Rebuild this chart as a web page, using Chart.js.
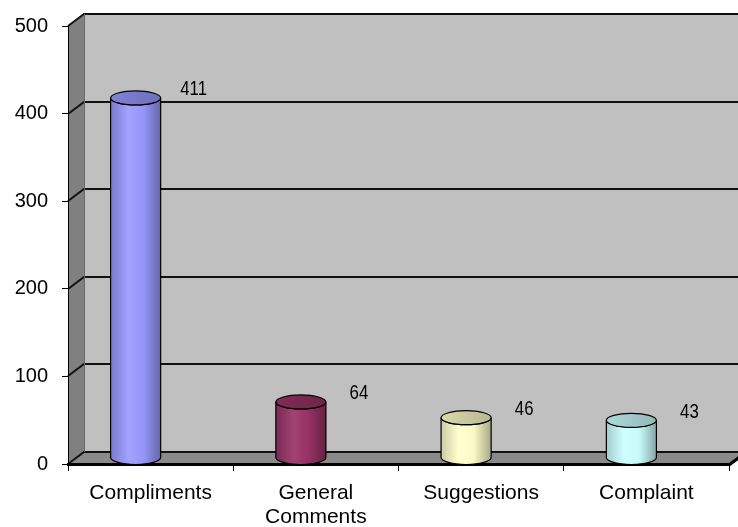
<!DOCTYPE html>
<html>
<head>
<meta charset="utf-8">
<script src="https://cdn.jsdelivr.net/npm/chart.js@4/dist/chart.umd.min.js"></script>
<style>
  html, body { margin: 0; padding: 0; background: #ffffff; }
  #wrap { width: 738px; height: 527px; }
</style>
</head>
<body>
<div id="wrap"><canvas id="c" width="738" height="527"></canvas></div>
<script>
// Feedback counts by type
const categories = ['Compliments', ['General', 'Comments'], 'Suggestions', 'Complaint'];
const counts = [411, 64, 46, 43];
const yMin = 0;
const yMax = 500;
const yStep = 100;
const cylinderColors = ['#9999FF', '#993366', '#FFFFCC', '#CCFFFF'];

// 3D look: depth offset of the back wall relative to the front plane
const DEPTH_X = 16;
const DEPTH_Y = 12;

function rgb(hex) {
  const n = parseInt(hex.slice(1), 16);
  return [(n >> 16) & 255, (n >> 8) & 255, n & 255];
}
function shade(hex, f) {
  const c = rgb(hex).map(v => {
    const x = f <= 1 ? v * f : v + (255 - v) * (f - 1);
    return Math.max(0, Math.min(255, Math.round(x)));
  });
  return 'rgb(' + c.join(',') + ')';
}

// Walls, floor and gridlines of the 3D box
const wallsPlugin = {
  id: 'walls',
  beforeDraw(chart) {
    const { ctx, chartArea: a, scales } = chart;
    const y = scales.y;
    const L = a.left, R = a.right, T = a.top, B = a.bottom;
    ctx.save();
    // back wall
    ctx.fillStyle = '#C0C0C0';
    ctx.fillRect(L + DEPTH_X, T - DEPTH_Y, R - L, B - T);
    // side wall
    ctx.fillStyle = '#808080';
    ctx.beginPath();
    ctx.moveTo(L, T);
    ctx.lineTo(L + DEPTH_X, T - DEPTH_Y);
    ctx.lineTo(L + DEPTH_X, B - DEPTH_Y);
    ctx.lineTo(L, B);
    ctx.closePath();
    ctx.fill();
    // floor
    ctx.fillStyle = '#8A8A8A';
    ctx.beginPath();
    ctx.moveTo(L, B);
    ctx.lineTo(L + DEPTH_X, B - DEPTH_Y);
    ctx.lineTo(R + DEPTH_X, B - DEPTH_Y);
    ctx.lineTo(R, B);
    ctx.closePath();
    ctx.fill();
    // gridlines following the side wall and back wall
    ctx.strokeStyle = '#111';
    ctx.lineWidth = 2;
    for (let v = yMin; v <= yMax; v += yStep) {
      const py = Math.round(y.getPixelForValue(v));
      ctx.beginPath();
      ctx.moveTo(L, py);
      ctx.lineTo(L + DEPTH_X, py - DEPTH_Y);
      ctx.lineTo(R + DEPTH_X, py - DEPTH_Y);
      ctx.stroke();
    }
    // edge between side wall and back wall
    ctx.strokeStyle = '#6a6a6a';
    ctx.lineWidth = 1;
    ctx.beginPath();
    ctx.moveTo(L + DEPTH_X + 0.5, T - DEPTH_Y);
    ctx.lineTo(L + DEPTH_X + 0.5, B - DEPTH_Y);
    ctx.stroke();
    // right edge of the floor
    ctx.strokeStyle = '#000';
    ctx.lineWidth = 3;
    ctx.beginPath();
    ctx.moveTo(R, B + 1);
    ctx.lineTo(R + DEPTH_X, B - DEPTH_Y + 1);
    ctx.stroke();
    ctx.restore();
  }
};

// Cylinders drawn over each bar element, plus the value labels
const cylinderPlugin = {
  id: 'cylinders',
  afterDatasetsDraw(chart) {
    const { ctx } = chart;
    const meta = chart.getDatasetMeta(0);
    ctx.save();
    meta.data.forEach((bar, i) => {
      const color = cylinderColors[i];
      const cx = bar.x - 15;
      const rx = bar.width / 2;
      const ry = 7;
      const topY = bar.y - DEPTH_Y / 2;
      const botY = bar.base - DEPTH_Y / 2;

      const g = ctx.createLinearGradient(cx - rx, 0, cx + rx, 0);
      g.addColorStop(0, shade(color, 0.8));
      g.addColorStop(0.35, shade(color, 1.08));
      g.addColorStop(0.65, shade(color, 0.98));
      g.addColorStop(1, shade(color, 0.66));

      // body
      ctx.beginPath();
      ctx.moveTo(cx - rx, topY);
      ctx.lineTo(cx - rx, botY);
      ctx.ellipse(cx, botY, rx, ry, 0, Math.PI, 0, true);
      ctx.lineTo(cx + rx, topY);
      ctx.ellipse(cx, topY, rx, ry, 0, 0, Math.PI, false);
      ctx.closePath();
      ctx.fillStyle = g;
      ctx.fill();
      ctx.strokeStyle = '#000';
      ctx.lineWidth = 1.2;
      ctx.stroke();

      // top cap
      const gt = ctx.createLinearGradient(cx - rx, 0, cx + rx, 0);
      gt.addColorStop(0, shade(color, 0.85));
      gt.addColorStop(1, shade(color, 0.72));
      ctx.beginPath();
      ctx.ellipse(cx, topY, rx, ry, 0, 0, Math.PI * 2);
      ctx.fillStyle = gt;
      ctx.fill();
      ctx.stroke();

      // value label, in a narrow face
      ctx.save();
      ctx.translate(cx + 58, bar.y - 14);
      ctx.scale(0.84, 1);
      ctx.fillStyle = '#000';
      ctx.font = '20px "Liberation Sans", Arial, sans-serif';
      ctx.textAlign = 'center';
      ctx.textBaseline = 'middle';
      ctx.fillText(String(counts[i]), 0, 0);
      ctx.restore();
    });
    ctx.restore();
  }
};

new Chart(document.getElementById('c'), {
  type: 'bar',
  data: {
    labels: categories,
    datasets: [{
      data: counts,
      backgroundColor: 'rgba(0,0,0,0)',
      borderWidth: 0,
      barPercentage: 0.303,
      categoryPercentage: 1
    }]
  },
  options: {
    responsive: false,
    animation: false,
    devicePixelRatio: 1,
    layout: { padding: { top: 24, right: 9, left: 0, bottom: 0 } },
    plugins: {
      legend: { display: false },
      tooltip: { enabled: false }
    },
    scales: {
      x: {
        offset: true,
        grid: {
          offset: true,
          drawOnChartArea: false,
          drawTicks: true,
          tickLength: 7,
          tickColor: '#000',
          tickWidth: 1
        },
        border: { display: true, color: '#000', width: 3 },
        ticks: {
          color: '#000',
          padding: 10,
          maxRotation: 0,
          autoSkip: false,
          font: { family: '"Liberation Sans", Arial, sans-serif', size: 21, lineHeight: 1.15 }
        },
        afterFit(scale) { scale.height = 63; }
      },
      y: {
        min: yMin,
        max: yMax,
        grid: {
          drawOnChartArea: false,
          drawTicks: true,
          tickLength: 6,
          tickColor: '#000',
          tickWidth: 1
        },
        border: { display: true, color: '#000', width: 1 },
        ticks: {
          stepSize: yStep,
          color: '#000',
          padding: 14,
          font: { family: '"Liberation Sans", Arial, sans-serif', size: 20 }
        },
        afterFit(scale) { scale.width = 68; }
      }
    }
  },
  plugins: [wallsPlugin, cylinderPlugin]
});
</script>
</body>
</html>
